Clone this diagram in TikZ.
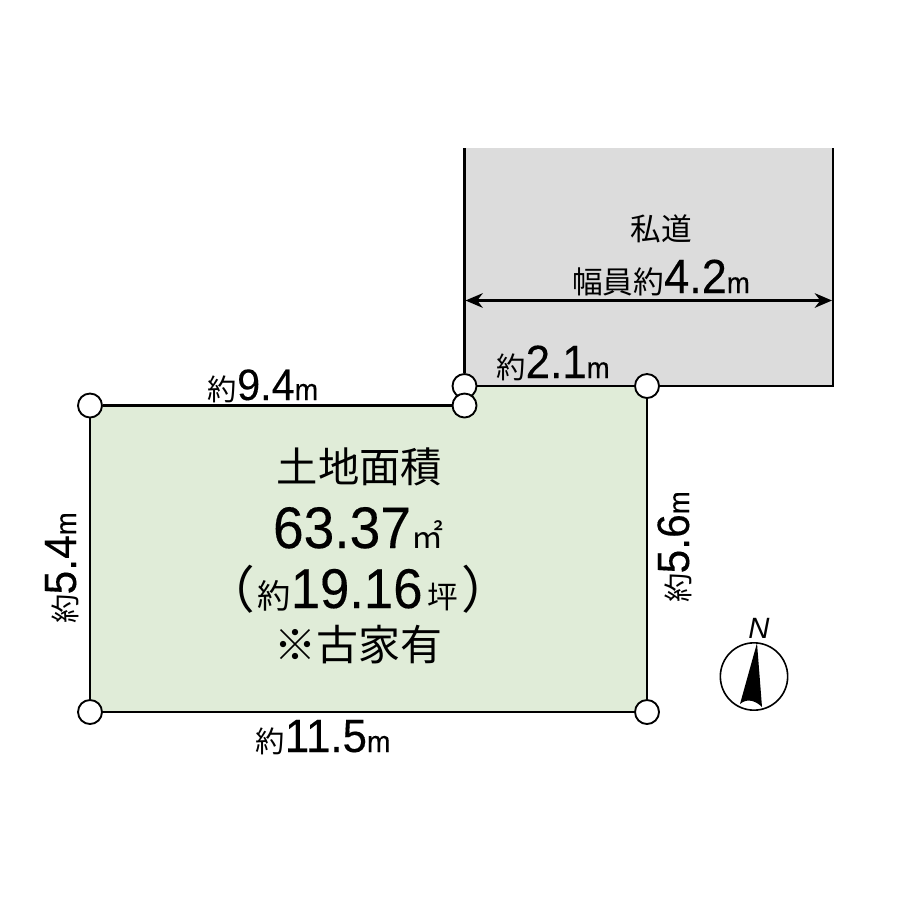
\documentclass[tikz,border=0pt]{standalone}
\usepackage{fontspec}
\setmainfont{Liberation Sans}
\newfontfamily\jpf{Noto Sans CJK JP}
\usetikzlibrary{arrows.meta}
\newcommand{\fs}[1]{\fontsize{#1}{#1}\selectfont}
\newcommand{\J}[2]{{\fs{#1}\jpf #2}}
\newcommand{\D}[2]{{\fs{#1}\addfontfeature{FakeStretch=0.94,FakeBold=0.25}#2}}
\definecolor{lot}{HTML}{E0ECD8}
\definecolor{road}{HTML}{DCDCDC}
\tikzset{
 edge/.style={line width=2pt,black},
 corner/.style={circle,draw=black,fill=white,line width=1.4pt,minimum size=18pt,inner sep=0pt},
 lbl/.style={inner sep=0pt,text=black,anchor=base}
}
\begin{document}
\begin{tikzpicture}[x=0.75pt,y=-0.75pt]
\useasboundingbox (0,0) rectangle (900,900);
\fill[white] (0,0) rectangle (900,900);
% road
\coordinate (rtl) at (464.5,148);
\coordinate (rtr) at (833,148);
\coordinate (rbr) at (833,386);
\coordinate (aL) at (465.5,300.5);
\coordinate (aR) at (832,300.5);
\fill[road] (rtl) -- (rtr) -- (rbr) -- (464.5,386) -- cycle;
% lot
\fill[lot] (90,405.5) -- (464.5,405.5) -- (464.5,386) -- (647,386) -- (647,712) -- (90,712) -- cycle;
% corners
\node[corner] (c1) at (90,405.5) {};
\node[corner] (c2) at (464.5,386) {};
\node[corner] (c3) at (464.5,405.5) {};
\node[corner] (c4) at (647,386) {};
\node[corner] (c5) at (647,712) {};
\node[corner] (c6) at (90,712) {};
\draw[edge] (rtl) -- (c2.north);
\draw[edge] (rtr) -- (rbr) -- (c4.east);
\draw[edge] (c2.east) -- (c4.west);
\draw[edge] (c4.south) -- (c5.north);
\draw[edge] (c5.west) -- (c6.east);
\draw[edge] (c6.north) -- (c1.south);
\draw[edge] (c1.east) -- (c3.west);
\draw[line width=1.6pt,{Stealth[length=13pt,width=11pt]}-{Stealth[length=13pt,width=11pt]}] (aL) -- (aR);
% road labels
\node[lbl] (t1) at (661,240) {\J{23}{私道}};
\node[lbl] (t2) at (661,293) {\J{23}{幅員約}\D{36}{4.2}\D{22}{m}};
\node[lbl] (t3) at (553,378) {\J{22}{約}\D{35}{2.1}\D{22}{m}};
\node[lbl] (t4) at (263,400) {\J{22}{約}\D{33}{9.4}\D{22.5}{m}};
\node[lbl] (t5) at (323,752) {\J{22}{約}\D{35}{11.5}\D{22.5}{m}};
\node[lbl,rotate=90] (t6) at (76,568) {\J{22}{約}\D{34}{5.4}\D{22}{m}};
\node[lbl,rotate=90] (t7) at (689,547) {\J{22}{約}\D{34}{5.6}\D{22}{m}};
% lot labels
\node[lbl] (t8) at (359.5,482) {\J{31}{土地面積}};
\node[lbl] (t9) at (358,548) {\D{44}{63.37}\J{24}{㎡}};
\node[lbl] (p1) at (230,608) {\J{38}{（}};
\node[lbl] (t10) at (358,608) {\J{25}{約}\D{42}{19.16}\hspace{4pt}\J{23}{坪}};
\node[lbl] (p2) at (487,608) {\J{38}{）}};
\node[lbl] (t11) at (358.5,660) {\J{31.5}{※古家有}};
% compass
\node[circle,draw=black,line width=1.2pt,minimum size=50.5pt,inner sep=0pt] (comp) at (754,676.5) {};
\fill[black] (757,643) -- (762,707) .. controls (757,702) and (748,697) .. (740,704) -- cycle;
\node[lbl,font=\itshape] (N) at (759,638) {\fs{22}N};
\end{tikzpicture}
\end{document}
